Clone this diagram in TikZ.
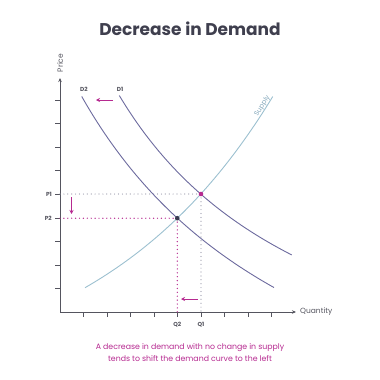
\documentclass[tikz,border=0pt]{standalone}
\usepackage{fontspec}
\setmainfont{Poppins}
\usetikzlibrary{arrows.meta}
\definecolor{titlec}{HTML}{3F3F4E}
\definecolor{axisc}{HTML}{55555F}
\definecolor{demc}{HTML}{6C6A9E}
\definecolor{supc}{HTML}{9CC0D0}
\definecolor{suptxt}{HTML}{86A9BC}
\definecolor{mag}{HTML}{B62A90}
\definecolor{dotg}{HTML}{9494A6}
\definecolor{ptdark}{HTML}{3A3A50}
\begin{document}
\begin{tikzpicture}[x=1pt,y=-1pt,
  axis/.style={draw=axisc, line width=0.8pt, -{Stealth[length=4pt,width=3.5pt]}},
  tickmark/.style={draw=axisc, line width=0.7pt},
  lab/.style={font=\fontsize{5.8}{6}\selectfont\bfseries, text=axisc, inner sep=0pt},
  axlab/.style={font=\fontsize{7.5}{8}\selectfont, text=axisc, inner sep=0pt},
  demand/.style={draw=demc, line width=0.9pt},
  supply/.style={draw=supc, line width=0.9pt},
  greydot/.style={draw=dotg, line width=1.2pt, line cap=round, dash pattern=on 0pt off 3.9pt},
  magdot/.style={draw=mag, line width=1.4pt, line cap=round, dash pattern=on 0pt off 3.9pt},
  shiftarrow/.style={draw=mag, line width=1pt, -{Stealth[length=4pt,width=4pt]}}
]
\useasboundingbox (0,0) rectangle (380,380);

% title
\node[font=\fontsize{17}{20}\selectfont\bfseries, text=titlec] (title) at (190,29) {Decrease in Demand};

% axes
\coordinate (O) at (60,312);
\coordinate (ytop) at (60,78);
\coordinate (xend) at (296,312);
\draw[axis] (O) -- (ytop);
\draw[axis] (O) -- (xend);
\node[axlab, rotate=90] (price) at (60,63) {Price};
\node[axlab, anchor=west] (quantity) at (300,312) {Quantity};

% ticks
\foreach \y in {100,123.5,147,170.5,194,218,241.5,265,288.5}
  \draw[tickmark] (55,\y) -- (60,\y);
\foreach \x in {83.5,107,130.5,154,177.3,201,224.5,248,271.5}
  \draw[tickmark] (\x,312) -- (\x,317);

% equilibrium points
\coordinate (E1) at (201,194);
\coordinate (E2) at (177.3,218.2);
\coordinate (P1a) at (60,194);
\coordinate (P2a) at (60,218.2);
\coordinate (Q1a) at (201,312);
\coordinate (Q2a) at (177.3,312);

% dotted guides
\draw[greydot] (P1a) -- (E1);
\draw[greydot] (E1) -- (Q1a);
\draw[magdot] (P2a) -- (E2);
\draw[magdot] (E2) -- (Q2a);

% curves
\draw[supply] plot[domain=85:272.7, samples=80, smooth] (\x, {287.7-102.7*(exp(0.0056*(\x-85))-1)});
\draw[demand] plot[domain=119.3:291.7, samples=80, smooth] (\x, {452.3-761.32/((\x+94.2)*0.01)});
\draw[demand] plot[domain=81.7:274, samples=80, smooth] (\x, {535.0-1091.42/((\x+167.3)*0.01)});

\fill[mag] (E1) circle (2.3pt);
\fill[ptdark] (E2) circle (2.3pt);

% labels
\node[lab, anchor=east] (P1) at (52,194) {P1};
\node[lab, anchor=east] (P2) at (52,218.2) {P2};
\node[lab] (Q2) at (177.3,325) {Q2};
\node[lab] (Q1) at (201,325) {Q1};
\node[lab] (D2) at (84,89) {D2};
\node[lab] (D1) at (120,89) {D1};
\node[font=\fontsize{6.8}{7}\selectfont, text=suptxt, rotate=58, anchor=south, inner sep=0pt] (suplab) at (265.5,108) {Supply};

% shift arrows
\coordinate (a1s) at (113,100); \coordinate (a1e) at (96,100);
\coordinate (a2s) at (71.5,197); \coordinate (a2e) at (71.5,214);
\coordinate (a3s) at (198,299); \coordinate (a3e) at (181,299);
\draw[shiftarrow] (a1s) -- (a1e);
\draw[shiftarrow] (a2s) -- (a2e);
\draw[shiftarrow] (a3s) -- (a3e);

% caption
\node[font=\fontsize{7.8}{12}\selectfont, text=mag, align=center] (caption) at (190,353) {A decrease in demand with no change in supply\\tends to shift the demand curve to the left};
\end{tikzpicture}
\end{document}
